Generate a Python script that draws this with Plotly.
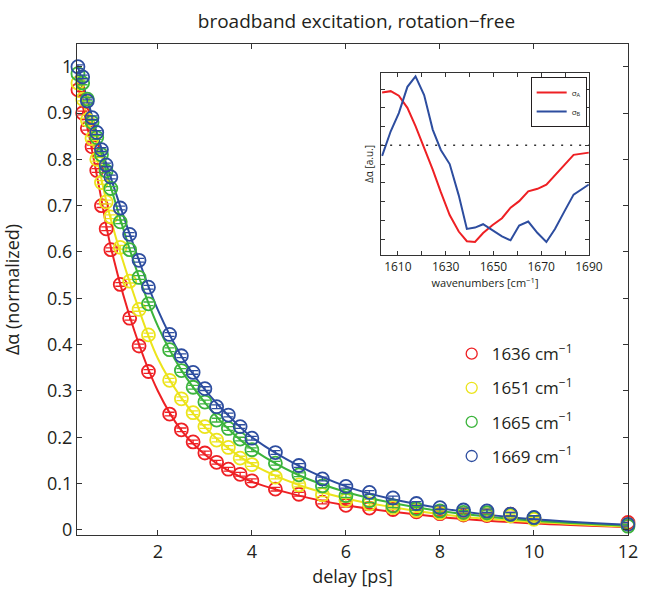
import plotly.graph_objects as go

# ---------------- data ----------------
delay = [0.3, 0.4, 0.5, 0.6, 0.7, 0.8, 0.9, 1.0, 1.2, 1.4, 1.6, 1.8, 2.25, 2.5, 2.75,
         3.0, 3.25, 3.5, 3.75, 4.0, 4.5, 5.0, 5.5, 6.0, 6.5, 7.0, 7.5, 8.0, 8.5, 9.0,
         9.5, 10.0, 12.0]

red_1636 = [0.95, 0.90, 0.867, 0.827, 0.776, 0.70, 0.65, 0.605, 0.53, 0.457, 0.397, 0.342,
            0.25, 0.216, 0.19, 0.166, 0.146, 0.131, 0.12, 0.106, 0.088, 0.077, 0.06, 0.053,
            0.047, 0.044, 0.039, 0.035, 0.032, 0.031, 0.034, 0.025, 0.016]
yellow_1651 = [0.965, 0.93, 0.885, 0.845, 0.80, 0.75, 0.708, 0.676, 0.61, 0.537, 0.476, 0.421,
               0.323, 0.283, 0.253, 0.223, 0.194, 0.178, 0.155, 0.141, 0.114, 0.097, 0.076,
               0.064, 0.056, 0.048, 0.042, 0.037, 0.034, 0.033, 0.03, 0.023, 0.012]
green_1665 = [0.985, 0.965, 0.93, 0.88, 0.847, 0.81, 0.775, 0.737, 0.665, 0.605, 0.545, 0.488,
              0.389, 0.344, 0.308, 0.276, 0.237, 0.219, 0.196, 0.173, 0.144, 0.119, 0.095,
              0.074, 0.063, 0.052, 0.046, 0.041, 0.038, 0.037, 0.033, 0.026, 0.008]
blue_1669 = [1.0, 0.978, 0.926, 0.89, 0.858, 0.821, 0.788, 0.762, 0.695, 0.638, 0.582, 0.524,
             0.422, 0.376, 0.34, 0.305, 0.266, 0.248, 0.223, 0.198, 0.167, 0.139, 0.11,
             0.094, 0.081, 0.069, 0.057, 0.048, 0.043, 0.041, 0.034, 0.027, 0.012]
err = [0.004] * len(delay)

# fitted curves
fit_delay = [0.3, 0.5, 0.75, 1.0, 1.5, 2.0, 2.5, 3.0, 3.5, 4.0, 5.0, 6.0, 7.0, 8.0, 9.0, 10.0, 12.0]
fit_red = [0.96, 0.87, 0.74, 0.61, 0.43, 0.30, 0.215, 0.163, 0.128, 0.104, 0.074, 0.053,
           0.039, 0.028, 0.020, 0.014, 0.006]
fit_yellow = [0.97, 0.89, 0.78, 0.67, 0.505, 0.37, 0.285, 0.222, 0.176, 0.142, 0.097, 0.068,
              0.049, 0.034, 0.024, 0.017, 0.007]
fit_green = [0.98, 0.925, 0.83, 0.74, 0.575, 0.44, 0.345, 0.275, 0.218, 0.175, 0.118, 0.082,
             0.058, 0.041, 0.029, 0.020, 0.009]
fit_blue = [1.0, 0.93, 0.84, 0.76, 0.61, 0.475, 0.375, 0.303, 0.247, 0.200, 0.138, 0.094,
            0.066, 0.047, 0.033, 0.023, 0.011]

series_labels = ["1636 cm<sup>\u22121</sup>", "1651 cm<sup>\u22121</sup>",
                 "1665 cm<sup>\u22121</sup>", "1669 cm<sup>\u22121</sup>"]
series_colors = ["#ee2024", "#ece41c", "#3cb43c", "#2d4d9f"]

# inset spectra
wavenumber = [1603.4, 1607.0, 1610.4, 1614.0, 1617.4, 1621.0, 1624.6, 1628.0, 1631.7, 1635.5,
              1638.9, 1642.3, 1645.7, 1649.7, 1653.6, 1657.2, 1660.8, 1664.6, 1668.5, 1672.2,
              1675.8, 1679.7, 1683.6, 1690.0]
sigma_A = [2.82, 2.89, 2.65, 2.0, 1.02, -0.1, -1.3, -2.5, -3.72, -4.6, -5.12, -5.16, -4.68,
           -4.25, -3.89, -3.33, -2.98, -2.46, -2.32, -2.1, -1.6, -1.05, -0.51, -0.39]
sigma_B = [-0.56, 0.75, 1.72, 3.12, 3.68, 2.68, 0.84, -0.25, -1.0, -2.67, -4.46, -4.39,
           -4.21, -4.54, -4.86, -5.07, -4.28, -4.07, -4.68, -5.16, -4.47, -3.54, -2.63, -2.09]
inset_xticks = [1610, 1630, 1650, 1670, 1690]

# ---------------- figure ----------------
FONT = "Open Sans"
INK = "#231f20"
fig = go.Figure()

fits = [fit_red, fit_yellow, fit_green, fit_blue]
points = [red_1636, yellow_1651, green_1665, blue_1669]

for f, c in zip(fits, series_colors):
    fig.add_trace(go.Scatter(x=fit_delay, y=f, mode="lines", line=dict(color=c, width=2, shape="spline"),
                             showlegend=False, hoverinfo="skip"))

for p, c, lab in zip(points, series_colors, series_labels):
    fig.add_trace(go.Scatter(x=delay, y=p, mode="markers",
                             marker=dict(symbol="circle-open", size=13, color=c, line=dict(width=1.8, color=c)),
                             error_y=dict(type="data", array=err, visible=True, color=c, thickness=1.3, width=5),
                             showlegend=False, name=lab, cliponaxis=False))

for c, lab in zip(series_colors, series_labels):
    fig.add_trace(go.Scatter(x=[None], y=[None], mode="markers", name=lab, legendgroup=lab,
                             marker=dict(symbol="circle-open", size=11, color=c, line=dict(width=1.3, color=c)),
                             showlegend=True, legend="legend"))

fig.add_trace(go.Scatter(x=wavenumber, y=sigma_A, mode="lines", line=dict(color="#ee2024", width=2),
                         name="\u03c3<sub>A</sub>", xaxis="x2", yaxis="y2", legend="legend2"))
fig.add_trace(go.Scatter(x=wavenumber, y=sigma_B, mode="lines", line=dict(color="#2d4d9f", width=2),
                         name="\u03c3<sub>B</sub>", xaxis="x2", yaxis="y2", legend="legend2"))

axis_common = dict(showgrid=False, zeroline=False, showline=True, linecolor="#333333", linewidth=1,
                   mirror="ticks", ticks="inside", tickcolor="#333333")

fig.update_layout(
    width=654, height=595,
    margin=dict(l=77, r=12, t=44, b=56),
    paper_bgcolor="white", plot_bgcolor="white",
    font=dict(family=FONT, color=INK, size=17),
    title=dict(text="broadband excitation, rotation\u2212free", x=0.545, xanchor="center",
               y=1 - 21 / 595, yanchor="middle", font=dict(size=19, family=FONT, color=INK)),
    xaxis=dict(range=[0.28, 12], tickvals=[2, 4, 6, 8, 10, 12], ticklen=5,
               title=dict(text="delay [ps]", font=dict(size=18), standoff=8),
               tickfont=dict(size=18), **axis_common),
    yaxis=dict(range=[-0.011, 1.049], tickvals=[0, 0.1, 0.2, 0.3, 0.4, 0.5, 0.6, 0.7, 0.8, 0.9, 1],
               ticktext=["0", "0.1", "0.2", "0.3", "0.4", "0.5", "0.6", "0.7", "0.8", "0.9", "1"],
               ticklen=5,
               title=dict(text="\u0394\u03b1 (normalized)", font=dict(size=18), standoff=22),
               tickfont=dict(size=18), **axis_common),
    xaxis2=dict(domain=[0.552, 0.929], anchor="y2", range=[1603, 1690],
                tickvals=inset_xticks, ticklen=4,
                minor=dict(tickvals=[1620, 1640, 1660, 1680], ticks="inside", ticklen=4,
                           tickcolor="#333333", showgrid=False),
                tickfont=dict(size=12),
                title=dict(text="wavenumbers [cm<sup>\u22121</sup>]", font=dict(size=11), standoff=2),
                **axis_common),
    yaxis2=dict(domain=[0.570, 0.941], anchor="x2", range=[-5.86, 3.86],
                dtick=1, tick0=0, showticklabels=False, ticklen=4,
                title=dict(text="\u0394\u03b1 [a.u.]", font=dict(size=10), standoff=4),
                **axis_common),
    legend=dict(x=0.68, y=0.405, xanchor="left", yanchor="top", bgcolor="rgba(0,0,0,0)",
                font=dict(size=17), tracegroupgap=9, itemsizing="trace"),
    legend2=dict(x=0.925, y=0.933, xanchor="right", yanchor="top", bgcolor="white",
                 bordercolor=INK, borderwidth=1, font=dict(size=8), tracegroupgap=0,
                 itemwidth=30),
    shapes=[dict(type="line", xref="x2 domain", yref="y2", x0=0, x1=1, y0=0, y1=0,
                 line=dict(color="#333333", width=1.5, dash="2px,7px"))],
)

fig.write_html("out.html")
